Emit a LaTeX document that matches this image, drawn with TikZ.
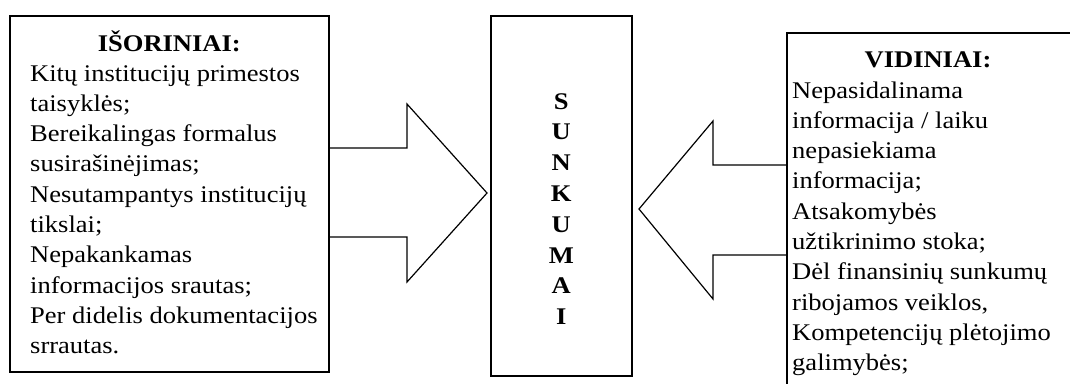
\documentclass[tikz,border=0pt]{standalone}
\usepackage{fontspec}
\setmainfont[FakeStretch=1.11]{Liberation Serif}
\usetikzlibrary{calc}
\begin{document}
\begin{tikzpicture}[x=1pt,y=-1pt,
  boxline/.style={draw=black,line width=1.6pt},
  arrowline/.style={draw=black,line width=1.2pt,line join=miter},
  bodytext/.style={font=\fontsize{23.9}{30.3}\selectfont,align=left,inner sep=0pt,anchor=base west},
  titletext/.style={font=\fontsize{23.9}{30.3}\selectfont\bfseries,inner sep=0pt,anchor=base},
  vertext/.style={font=\fontsize{23.9}{30.8}\selectfont\bfseries,align=center,inner sep=0pt,anchor=base}]
\useasboundingbox (0,0) rectangle (1070,383);
% boxes
\node[boxline,minimum width=319pt,minimum height=356pt,inner sep=0pt,anchor=north west] (lbox) at (9,15) {};
\node[boxline,minimum width=141pt,minimum height=360pt,inner sep=0pt,anchor=north west] (mbox) at (490,15) {};
\node[boxline,minimum width=290pt,minimum height=370pt,inner sep=0pt,anchor=north west] (rbox) at (786,32) {};
% left arrow
\coordinate (la1) at (lbox.east |- 0,148);
\coordinate (la2) at (lbox.east |- 0,237);
\coordinate (ltip) at (487,193);
\draw[arrowline] (la1) -- (407,148) -- (407,104) -- (ltip) -- (407,282) -- (407,237) -- (la2);
% right arrow
\coordinate (ra1) at (rbox.west |- 0,165);
\coordinate (ra2) at (rbox.west |- 0,255);
\coordinate (rtip) at (639,209);
\draw[arrowline] (ra1) -- (713,165) -- (713,121) -- (rtip) -- (713,299) -- (713,255) -- (ra2);
% texts (base anchor = baseline of last line)
\node[titletext] (ltitle) at (lbox.center |- 0,51) {IŠORINIAI:};
\node[bodytext] (ltext) at (30,353.7) {Kitų institucijų primestos\\taisyklės;\\Bereikalingas formalus\\susirašinėjimas;\\Nesutampantys institucijų\\tikslai;\\Nepakankamas\\informacijos srautas;\\Per didelis dokumentacijos\\srrautas.};
\node[vertext] (mtext) at (mbox.center |- 0,324.6) {S\\U\\N\\K\\U\\M\\A\\I};
\node[titletext] (rtitle) at (928,67) {VIDINIAI:};
\node[bodytext] (rtext) at (792,370.7) {Nepasidalinama\\informacija / laiku\\nepasiekiama\\informacija;\\Atsakomybės\\užtikrinimo stoka;\\Dėl finansinių sunkumų\\ribojamos veiklos,\\Kompetencijų plėtojimo\\galimybės;};
\end{tikzpicture}
\end{document}
